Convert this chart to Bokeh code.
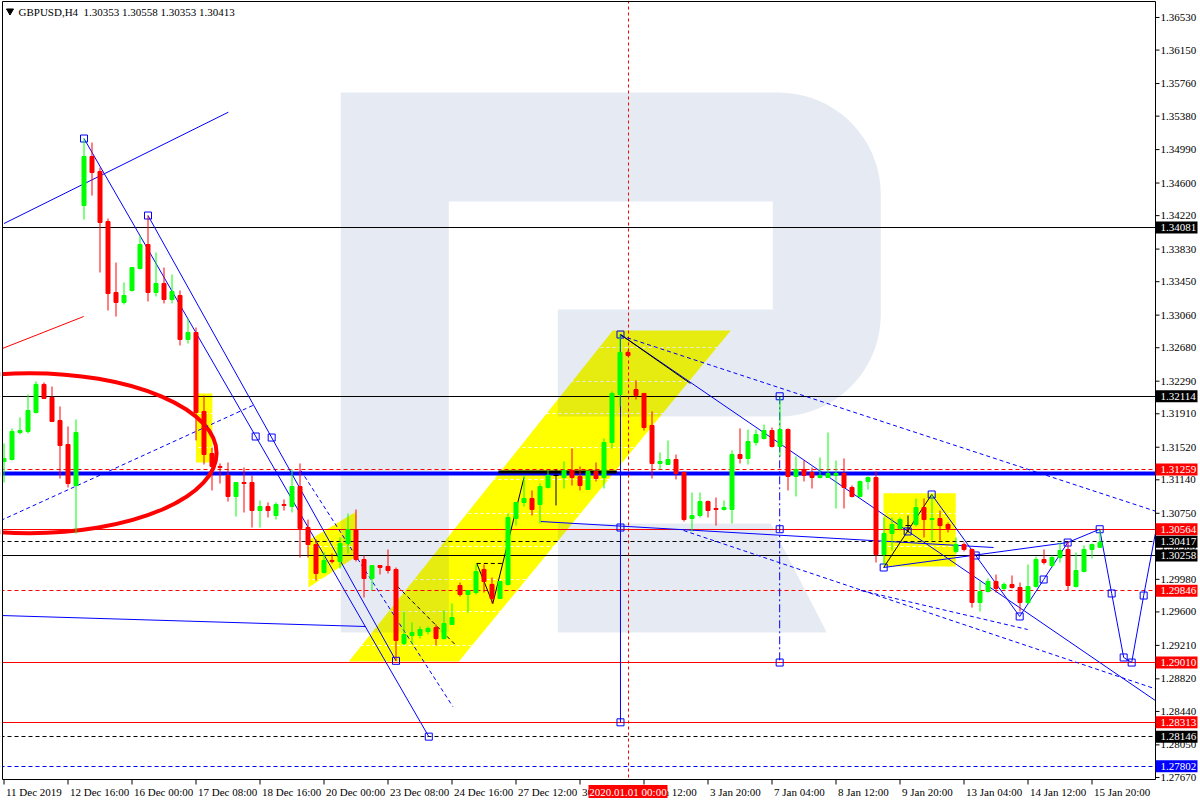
import numpy as np
from bokeh.plotting import figure
from bokeh.models import Range1d
from bokeh.core.properties import value
from bokeh.embed import file_html
from bokeh.resources import INLINE

FONT = "Liberation Sans Narrow"
SYMBOL = "GBPUSD,H4"

# ---- H4 candles (bar index 0 = first visible bar) ----
open_ = [1.31354, 1.31377, 1.31692, 1.31704, 1.31925, 1.32252, 1.32100, 1.31832, 1.31552, 1.31074,
         1.34338, 1.34909, 1.34735, 1.34151, 1.33324, 1.33208, 1.33347, 1.33603, 1.33883, 1.33324,
         1.33429, 1.33242, 1.33289, 1.32776, 1.32857, 1.31937, 1.31447, 1.31296, 1.31191, 1.30946,
         1.31109, 1.31109, 1.30782, 1.30829, 1.30724, 1.30852, 1.30829, 1.31062, 1.30584, 1.30386,
         1.30060, 1.30200, 1.30188, 1.30398, 1.30561, 1.30211, 1.29990, 1.30141, 1.30130, 1.30095,
         1.29232, 1.29325, 1.29325, 1.29372, 1.29418, 1.29290, 1.29453, 1.29908, 1.29803, 1.29826,
         1.30095, 1.29920, 1.29756, 1.29920, 1.30689, 1.30876, 1.30922, 1.30852, 1.31051, 1.31191,
         1.31167, 1.31249, 1.31179, 1.31027, 1.31237, 1.31167, 1.31575, 1.32135, 1.32625, 1.32193,
         1.32147, 1.31774, 1.31331, 1.31319, 1.31377, 1.31226, 1.30689, 1.30724, 1.30887, 1.30806,
         1.30794, 1.30794, 1.31435, 1.31389, 1.31575, 1.31622, 1.31715, 1.31529, 1.31727, 1.31179,
         1.31261, 1.31226, 1.31167, 1.31167, 1.31191, 1.31214, 1.31051, 1.30946, 1.31121, 1.31167,
         1.30270, 1.30514, 1.30573, 1.30607, 1.30619, 1.30817, 1.30677, 1.30689, 1.30619, 1.30305,
         1.30386, 1.30328, 1.29710, 1.29838, 1.29955, 1.29873, 1.29920, 1.29885, 1.29710, 1.29896,
         1.30211, 1.30141, 1.30234, 1.30328, 1.29896, 1.30071, 1.30328, 1.30353]
high_ = [1.31564, 1.31739, 1.31867, 1.32135, 1.32287, 1.32275, 1.32228, 1.31995, 1.31762, 1.31843,
         1.35119, 1.35072, 1.34781, 1.34186, 1.33673, 1.33441, 1.33615, 1.33988, 1.34221, 1.33790,
         1.33615, 1.33534, 1.33347, 1.33021, 1.32916, 1.32124, 1.31517, 1.31331, 1.31342, 1.31109,
         1.31284, 1.31191, 1.30899, 1.30876, 1.30876, 1.30911, 1.31261, 1.31331, 1.30677, 1.30445,
         1.30293, 1.30281, 1.30468, 1.30747, 1.30794, 1.30258, 1.30141, 1.30141, 1.30328, 1.30118,
         1.29605, 1.29477, 1.29430, 1.29430, 1.29453, 1.29617, 1.29698, 1.29943, 1.29850, 1.30153,
         1.30153, 1.30001, 1.29955, 1.30747, 1.30876, 1.31191, 1.31016, 1.31097, 1.31249, 1.31261,
         1.31354, 1.31505, 1.31296, 1.31237, 1.31342, 1.31622, 1.32170, 1.32834, 1.32648, 1.32298,
         1.32147, 1.31937, 1.31459, 1.31599, 1.31435, 1.31237, 1.30992, 1.30992, 1.30899, 1.30934,
         1.30899, 1.31482, 1.31739, 1.31727, 1.31727, 1.31785, 1.31750, 1.32100, 1.31739, 1.31412,
         1.31366, 1.31284, 1.31400, 1.31692, 1.31366, 1.31389, 1.31074, 1.31132, 1.31179, 1.31237,
         1.30701, 1.30701, 1.30701, 1.30724, 1.30922, 1.30922, 1.30969, 1.30782, 1.30642, 1.30468,
         1.30410, 1.30340, 1.29955, 1.29990, 1.30036, 1.29943, 1.30025, 1.29943, 1.30153, 1.30246,
         1.30328, 1.30258, 1.30410, 1.30421, 1.30293, 1.30375, 1.30398, 1.30558]
low_ = [1.31109, 1.31366, 1.31669, 1.31680, 1.31913, 1.32089, 1.31820, 1.31156, 1.31051, 1.30514,
        1.34174, 1.34454, 1.33557, 1.33114, 1.33044, 1.33184, 1.33335, 1.33592, 1.33219, 1.33277,
        1.33196, 1.33196, 1.32706, 1.32729, 1.31599, 1.31319, 1.31016, 1.31097, 1.30887, 1.30712,
        1.30759, 1.30584, 1.30584, 1.30701, 1.30677, 1.30782, 1.30759, 1.30234, 1.30234, 1.29966,
        1.30048, 1.30165, 1.30106, 1.30281, 1.30188, 1.29768, 1.29850, 1.30036, 1.30048, 1.29030,
        1.29209, 1.29232, 1.29290, 1.29337, 1.29209, 1.29279, 1.29453, 1.29780, 1.29593, 1.29803,
        1.29826, 1.29698, 1.29756, 1.29908, 1.30607, 1.30829, 1.30724, 1.30631, 1.31039, 1.30841,
        1.31039, 1.31074, 1.31016, 1.31027, 1.31121, 1.31039, 1.31505, 1.31995, 1.32578, 1.32077,
        1.31715, 1.31156, 1.31261, 1.31319, 1.31144, 1.30654, 1.30538, 1.30701, 1.30701, 1.30607,
        1.30782, 1.30631, 1.31331, 1.31319, 1.31540, 1.31610, 1.31517, 1.31412, 1.31016, 1.30946,
        1.31121, 1.31039, 1.31156, 1.31167, 1.30806, 1.30806, 1.30934, 1.30934, 1.31027, 1.30176,
        1.30153, 1.30316, 1.30549, 1.30526, 1.30596, 1.30468, 1.30433, 1.30433, 1.30526, 1.30281,
        1.30305, 1.29651, 1.29605, 1.29826, 1.29826, 1.29850, 1.29873, 1.29605, 1.29686, 1.29885,
        1.30153, 1.30118, 1.30176, 1.29850, 1.29885, 1.30060, 1.30223, 1.30353]
close_ = [1.31389, 1.31704, 1.31715, 1.31948, 1.32252, 1.32089, 1.31820, 1.31540, 1.31097, 1.31692,
          1.34909, 1.34723, 1.34140, 1.33312, 1.33208, 1.33289, 1.33615, 1.33883, 1.33324, 1.33429,
          1.33242, 1.33335, 1.32776, 1.32857, 1.31925, 1.31435, 1.31296, 1.31284, 1.30946, 1.31109,
          1.31097, 1.30782, 1.30829, 1.30782, 1.30852, 1.30841, 1.31062, 1.30573, 1.30386, 1.30048,
          1.30200, 1.30188, 1.30398, 1.30561, 1.30211, 1.29990, 1.30141, 1.30118, 1.30083, 1.29267,
          1.29337, 1.29360, 1.29395, 1.29407, 1.29290, 1.29465, 1.29535, 1.29803, 1.29850, 1.30071,
          1.29955, 1.29756, 1.29955, 1.30701, 1.30876, 1.30922, 1.30794, 1.31062, 1.31191, 1.31191,
          1.31249, 1.31167, 1.31074, 1.31237, 1.31156, 1.31575, 1.32147, 1.32625, 1.32590, 1.32124,
          1.31750, 1.31331, 1.31354, 1.31377, 1.31214, 1.30677, 1.30724, 1.30887, 1.30782, 1.30794,
          1.30817, 1.31435, 1.31389, 1.31587, 1.31669, 1.31715, 1.31529, 1.31727, 1.31179, 1.31261,
          1.31191, 1.31167, 1.31191, 1.31214, 1.31214, 1.31051, 1.30946, 1.31121, 1.31167, 1.30270,
          1.30514, 1.30619, 1.30677, 1.30607, 1.30817, 1.30677, 1.30689, 1.30607, 1.30573, 1.30386,
          1.30328, 1.29710, 1.29838, 1.29955, 1.29873, 1.29920, 1.29885, 1.29710, 1.29896, 1.30211,
          1.30176, 1.30234, 1.30316, 1.29908, 1.30083, 1.30328, 1.30386, 1.30413]

# ---- scales ----
date_tick_bars = [0, 8, 16, 24, 32, 40, 48, 56, 64, 72, 80, 88, 96, 104, 112, 120, 128, 136]
date_tick_labels = ["11 Dec 2019", "12 Dec 16:00", "16 Dec 00:00", "17 Dec 08:00", "18 Dec 16:00",
                    "20 Dec 00:00", "23 Dec 08:00", "24 Dec 16:00", "27 Dec 12:00", "30 Dec 20:00",
                    "2 Jan 12:00", "3 Jan 20:00", "7 Jan 04:00", "8 Jan 12:00", "9 Jan 20:00",
                    "13 Jan 04:00", "14 Jan 12:00", "15 Jan 20:00"]
separator_bar = 78
separator_label = "2020.01.01 00:00"
price_ticks = [1.36530, 1.36150, 1.35760, 1.35380, 1.34990, 1.34600, 1.34220, 1.33830, 1.33450,
               1.33060, 1.32680, 1.32290, 1.31910, 1.31520, 1.31140, 1.30750, 1.30360, 1.29980,
               1.29600, 1.29210, 1.28820, 1.28440, 1.28050, 1.27670]

# ---- horizontal levels ----
level_prices = [1.34081, 1.32114, 1.31259, 1.30564, 1.30417, 1.30258, 1.29846, 1.29010, 1.28313, 1.28146, 1.27802]
level_colors = ["black", "black", "red", "red", "black", "black", "red", "red", "red", "black", "blue"]
level_dashed = [False, False, True, False, True, False, True, False, False, True, True]
support_price = 1.3121

# ---- drawn objects (bar index, price) ----
blue_solid = [
    ([0.0, 28.05], [1.34128, 1.35426]),
    ([10.0, 53.1], [1.35119, 1.28146]),
    ([18.0, 49.0], [1.34221, 1.29030]),
    ([-0.3, 45.2], [1.29558, 1.29430]),
    ([67.1, 123.7], [1.30654, 1.30351]),
    ([77.06, 144.5], [1.32834, 1.28530]),
    ([109.96, 132.96], [1.30118, 1.30409]),
    ([115.96, 126.96], [1.30969, 1.29547]),
    ([77.06, 77.06], [1.32834, 1.28313]),
]
forecast_bars = [126.96, 129.96, 132.96, 136.96, 138.46, 139.96, 140.96, 142.46, 144.4]
forecast_prices = [1.29547, 1.29978, 1.30409, 1.30564, 1.29815, 1.29069, 1.29010, 1.29791, 1.30750]
blue_dashed = [
    ([-0.4, 31.1], [1.30666, 1.32007]),
    ([37.1, 56.1], [1.31249, 1.28497]),
    ([77.06, 144.5], [1.32822, 1.30757]),
    ([84.96, 144.5], [1.30549, 1.28685]),
    ([107.1, 127.96], [1.29850, 1.29395]),
]
blue_dashdot = [([96.96, 96.96], [1.32114, 1.29010])]
black_solid = [
    ([59.1, 61.1, 65.0], [1.30165, 1.29698, 1.31167]),
    ([109.96, 115.96], [1.30118, 1.30969]),
    ([77.06, 85.8], [1.32834, 1.32263]),
]
black_dashed = [
    ([59.1, 62.3], [1.30165, 1.30165]),
    ([49.2, 56.5], [1.29896, 1.29209]),
]
black_bar = ([61.8, 76.6], [1.31231, 1.31231])
red_slope = ([-0.2, 9.96], [1.32671, 1.33044])
ellipse_centre = (3.2, 1.31451)
ellipse_size = (46.75, 0.018653)
marker_bars = [10.0, 18.0, 31.46, 33.46, 53.1, 49.0, 77.06, 77.06, 77.06, 96.96, 96.96, 96.96,
               109.96, 112.96, 115.96, 121.46, 126.96, 129.96, 132.96, 136.96, 138.46, 139.96,
               140.96, 142.46]
marker_prices = [1.35119, 1.34221, 1.31645, 1.31633, 1.28146, 1.29030, 1.32834, 1.30584, 1.28313,
                 1.32114, 1.30564, 1.29010, 1.30118, 1.30538, 1.30969, 1.30258, 1.29547, 1.29978,
                 1.30409, 1.30564, 1.29815, 1.29069, 1.29010, 1.29791]

# ---- highlighted areas ----
channel_bars = [43.1, 56.85, 90.85, 76.1]
channel_prices = [1.29022, 1.29022, 1.32881, 1.32881]
box_a = (23.99, 26.05, 1.31342, 1.32147)
flag_bars = [38.05, 44.05, 44.05, 38.05]
flag_prices = [1.30433, 1.30771, 1.30246, 1.29885]
box_b = (109.93, 118.97, 1.30130, 1.30984)

# ---- background emblem, outline in its own 540x540 unit square (v downward) ----
LOGO_LEFT, LOGO_RIGHT = 42.1, 109.6
LOGO_TOP, LOGO_BOTTOM = 1.35655, 1.29360

# ---- canvas geometry: one bar = 8 px, one px = 0.00011658 in price ----
BAR_PX = 8.0
PRICE_PER_PX = 0.00011658
X_LO, X_HI = -0.4375, 149.5625
Y_HI = 1.36728
Y_LO = Y_HI - 800 * PRICE_PER_PX
FRAME_L, FRAME_R = X_LO + 2 / BAR_PX, X_LO + 1155 / BAR_PX
FRAME_T, FRAME_B = Y_HI - 1 * PRICE_PER_PX, Y_HI - 779 * PRICE_PER_PX


def px_x(n):
    return n / BAR_PX


def px_y(n):
    return n * PRICE_PER_PX


def emblem_parts():
    r = 102
    t1 = np.linspace(-np.pi / 2, 0, 20)
    t2 = np.linspace(0, np.pi / 2, 20)
    bowl_u = [0, 438] + list(438 + r * np.cos(t1)) + list(438 + r * np.cos(t2)) + [217, 217, 432, 432, 108, 108, 0]
    bowl_v = [0, 0] + list(102 + r * np.sin(t1)) + list(222 + r * np.sin(t2)) + [324, 217, 217, 109, 109, 540, 540]
    leg_u = [217, 430, 486, 217]
    leg_v = [431, 431, 540, 540]
    out = []
    for u, v in ((bowl_u, bowl_v), (leg_u, leg_v)):
        u = np.asarray(u, float) / 540.0
        v = np.asarray(v, float) / 540.0
        out.append((list(LOGO_LEFT + u * (LOGO_RIGHT - LOGO_LEFT)),
                    list(LOGO_TOP - v * (LOGO_TOP - LOGO_BOTTOM))))
    return out


BULL = "#00FF00"
BEAR = "#FF0000"
TXT = dict(text_font=value(FONT), text_font_size=value("11px"), text_baseline="middle")

p = figure(width=1200, height=800, x_range=Range1d(X_LO, X_HI), y_range=Range1d(Y_LO, Y_HI),
           output_backend="svg", toolbar_location=None,
           x_axis_location=None, y_axis_location=None,
           min_border=0, min_border_left=0, min_border_right=0, min_border_top=0, min_border_bottom=0,
           background_fill_color="white", border_fill_color="white", outline_line_color=None)
p.xgrid.visible = False
p.ygrid.visible = False

# highlighted areas
p.patch(channel_bars, channel_prices, fill_color="#FFFF00", line_color=None)
p.patch(flag_bars, flag_prices, fill_color="#FFFF00", line_color=None)
for x0, x1, y0, y1 in (box_a, box_b):
    p.quad(left=[x0], right=[x1], bottom=[y0], top=[y1], fill_color="#FFFF00", line_color=None)

# grid
p.hspan(y=price_ticks, line_color="white", line_dash="3 3", line_width=1)

# emblem
parts = emblem_parts()
p.patches([q[0] for q in parts], [q[1] for q in parts], fill_color="#1B4991", fill_alpha=0.11, line_color=None)

# levels
for y, col, dsh in zip(level_prices, level_colors, level_dashed):
    p.hspan(y=[y], line_color=col, line_width=1, line_dash="4 3" if dsh else "solid")
p.hspan(y=[support_price], line_color="#0000FF", line_width=4)
p.line(black_bar[0], black_bar[1], line_color="black", line_width=3)
p.vspan(x=[separator_bar], line_color="red", line_width=1, line_dash="3 3")

# drawn lines
p.ellipse(x=[ellipse_centre[0]], y=[ellipse_centre[1]], width=[ellipse_size[0]], height=[ellipse_size[1]],
          fill_color=None, line_color="red", line_width=4)
p.line(red_slope[0], red_slope[1], line_color="red", line_width=1)
p.multi_line([s[0] for s in blue_solid], [s[1] for s in blue_solid], line_color="#0000FF", line_width=1)
p.line(forecast_bars, forecast_prices, line_color="#0000FF", line_width=1)
p.multi_line([s[0] for s in blue_dashed], [s[1] for s in blue_dashed], line_color="#0000FF",
             line_width=1, line_dash="4 3")
p.multi_line([s[0] for s in blue_dashdot], [s[1] for s in blue_dashdot], line_color="#0000FF",
             line_width=1, line_dash="8 3 2 3")
p.multi_line([s[0] for s in black_solid], [s[1] for s in black_solid], line_color="black", line_width=1)
p.multi_line([s[0] for s in black_dashed], [s[1] for s in black_dashed], line_color="black",
             line_width=1, line_dash="4 3")
p.scatter(marker_bars, marker_prices, marker="square", size=7, fill_color=None,
          line_color="#0000FF", line_width=1)

# candles
idx = np.arange(len(open_))
o = np.array(open_)
h = np.array(high_)
l = np.array(low_)
c = np.array(close_)
up = c > o
dn = c < o
fl = c == o
for mask, col in ((up, BULL), (dn, BEAR)):
    p.segment(idx[mask], l[mask], idx[mask], h[mask], line_color=col, line_width=1)
    p.vbar(x=idx[mask], width=0.5, bottom=np.minimum(o, c)[mask], top=np.maximum(o, c)[mask],
           fill_color=col, line_color=col, line_width=1)
p.segment(idx[fl], l[fl], idx[fl], h[fl], line_color="black", line_width=1)
p.segment(idx[fl] - 0.3125, o[fl], idx[fl] + 0.3125, o[fl], line_color="black", line_width=1)

# margins outside the price window
pad = 5.0
p.quad(left=[X_LO - pad, X_LO - pad, FRAME_R, X_LO - pad],
       right=[FRAME_L, X_HI + pad, X_HI + pad, X_HI + pad],
       bottom=[Y_LO - pad, FRAME_T, Y_LO - pad, Y_LO - pad],
       top=[Y_HI + pad, Y_HI + pad, Y_HI + pad, FRAME_B],
       fill_color="white", line_color=None)
p.quad(left=[FRAME_L], right=[FRAME_R], bottom=[FRAME_B], top=[FRAME_T],
       fill_color=None, line_color="black", line_width=1)

# price scale
p.segment(x0=[FRAME_R] * len(price_ticks), x1=[FRAME_R + px_x(4)] * len(price_ticks),
          y0=price_ticks, y1=price_ticks, line_color="black", line_width=1)
p.text(x=[FRAME_R + px_x(5)] * len(price_ticks), y=price_ticks,
       text=[f"{t:.5f}" for t in price_ticks], text_color="black", text_align="left", **TXT)

# time scale
p.segment(x0=date_tick_bars, x1=date_tick_bars, y0=[FRAME_B] * len(date_tick_bars),
          y1=[FRAME_B - px_y(5)] * len(date_tick_bars), line_color="black", line_width=1)
p.text(x=[b + px_x(2) for b in date_tick_bars], y=[FRAME_B - px_y(12)] * len(date_tick_bars),
       text=date_tick_labels, text_color="black", text_align="left", **TXT)

# period separator tag
p.quad(left=[separator_bar - px_x(39.5)], right=[separator_bar + px_x(39.5)],
       top=[FRAME_B - px_y(5.5)], bottom=[FRAME_B - px_y(18.5)], fill_color="red", line_color=None)
p.text(x=[separator_bar], y=[FRAME_B - px_y(12)], text=[separator_label], text_color="white",
       text_align="center", **TXT)

# price tags
p.quad(left=[FRAME_R] * len(level_prices), right=[FRAME_R + px_x(42)] * len(level_prices),
       top=[y + px_y(6) for y in level_prices], bottom=[y - px_y(6) for y in level_prices],
       fill_color=level_colors, line_color=None)
p.text(x=[FRAME_R + px_x(5)] * len(level_prices), y=level_prices,
       text=[f"{y:.5f}" for y in level_prices], text_color="white", text_align="left", **TXT)

# symbol header
p.scatter([X_LO + px_x(9.5)], [Y_HI - px_y(10.5)], marker="inverted_triangle", size=7,
          fill_color="black", line_color="black")
header = f"{SYMBOL}\u00a0 {open_[-1]:.5f} {high_[-1]:.5f} {low_[-1]:.5f} {close_[-1]:.5f}"
p.text(x=[X_LO + px_x(18)], y=[Y_HI - px_y(11)], text=[header], text_color="black", text_align="left", **TXT)

open("out.html", "w").write(file_html(p, INLINE))
